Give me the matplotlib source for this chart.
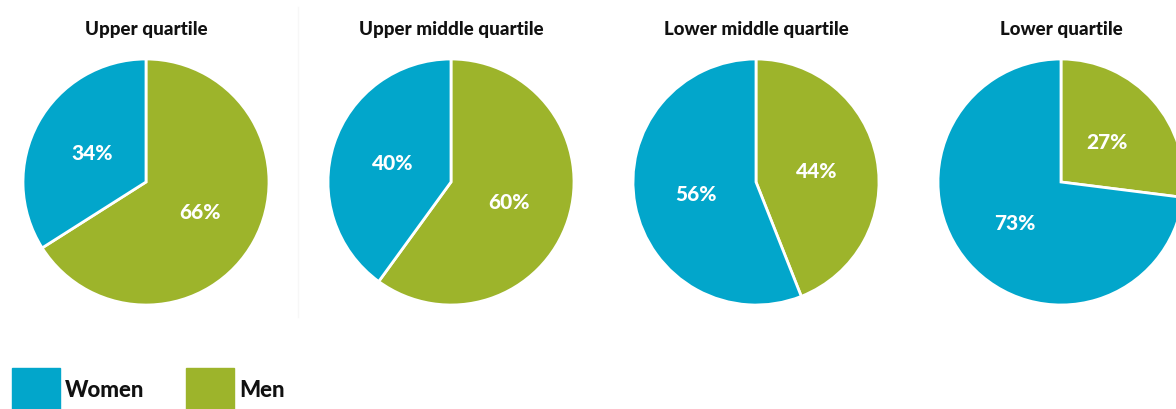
import matplotlib.pyplot as plt
from matplotlib.patches import Rectangle

plt.rcParams['font.family'] = ['Lato', 'DejaVu Sans']

quartiles = ["Upper quartile", "Upper middle quartile", "Lower middle quartile", "Lower quartile"]
women = [34, 40, 56, 73]
men = [66, 60, 44, 27]
colors = {"Women": "#02a6cb", "Men": "#9db42b"}

W, H = 1176, 410
fig = plt.figure(figsize=(W / 100, H / 100), dpi=100)

r = 123
for i, q in enumerate(quartiles):
    cx = 146 + 305 * i
    cy = H - 183
    ax = fig.add_axes([(cx - r) / W, (cy - r) / H, 2 * r / W, 2 * r / H])
    # men go clockwise from 12 o'clock, women fill the rest
    wedges, texts, autotexts = ax.pie(
        [men[i], women[i]], colors=[colors["Men"], colors["Women"]],
        startangle=90, counterclock=False, autopct="%d%%", pctdistance=0.5,
        wedgeprops=dict(edgecolor="white", linewidth=2),
        textprops=dict(color="white", fontsize=15, fontweight="black"))
    ax.set_aspect("equal")
    ax.set_xlim(-1, 1)
    ax.set_ylim(-1, 1)
    fig.text(cx / W, 1 - 30 / H, q, ha="center", va="center",
             fontsize=13.5, fontweight="black", color="#111111")

# faint separator between first and second pie
fig.add_artist(plt.Line2D([298 / W, 298 / W], [1 - 318 / H, 1 - 8 / H],
                          color="#f7f7f7", lw=1))

# legend
for x0, lab, tx in [(12, "Women", 65), (186, "Men", 239)]:
    fig.add_artist(Rectangle((x0 / W, 0), 48 / W, 41 / H,
                             transform=fig.transFigure, color=colors[lab]))
    fig.text(tx / W, 1 - 391 / H, lab, ha="left", va="center",
             fontsize=16, fontweight="black", color="#111111")

fig.savefig("out.png", dpi=100)
